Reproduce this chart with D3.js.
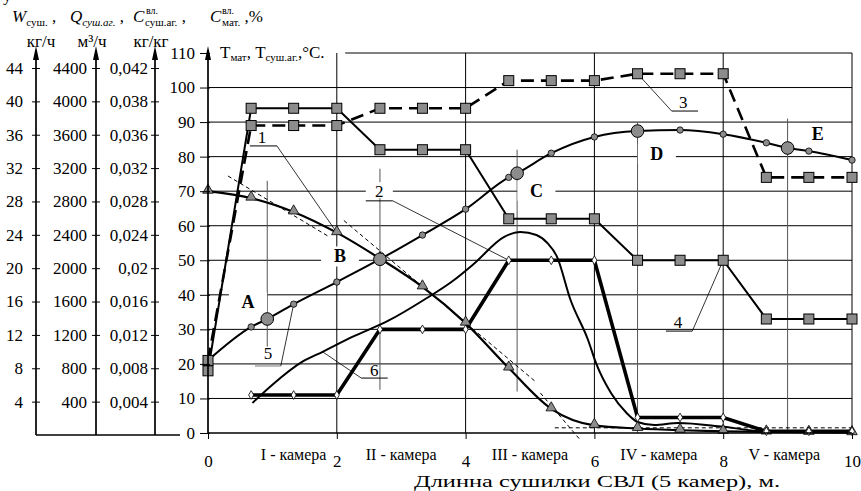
<!DOCTYPE html>
<html>
<head>
<meta charset="utf-8">
<script src="https://cdn.jsdelivr.net/npm/d3@7"></script>
<style>
body { margin: 0; background: #fff; }
svg text { font-family: "Liberation Serif", "Times New Roman", serif; fill: #000; }
</style>
</head>
<body>
<div id="chart"></div>
<script>
var svgWidth = 861;
var svgHeight = 491;

// point positions along the dryer (3 points per camera)
var xPts = [0, 0.67, 1.33, 2, 2.67, 3.33, 4, 4.67, 5.33, 6, 6.67, 7.33, 8, 8.67, 9.33, 10];

// 1 - triangles
var c1 = [70, 68, 64, 58, 50.5, 42.3, 31.8, 18.8, 7, 2.2, 1.3, 0.8, 0.5, 0.3, 0.2, 0.1];
// 2 - thick line, white diamonds
var c2x = [0.67, 1.33, 2, 2.67, 3.33, 4, 4.67, 5.33, 6, 6.67, 7.33, 8, 8.67, 9.33, 10];
var c2 = [11, 11, 11, 30, 30, 30, 50, 50, 50, 4.5, 4.5, 4.5, 0.5, 0.5, 0.5];
// 3 - dashed squares
var c3 = [21, 89, 89, 89, 94, 94, 94, 102, 102, 102, 104, 104, 104, 74, 74, 74];
// 4 - solid squares
var c4 = [18, 94, 94, 94, 82, 82, 82, 62, 62, 62, 50, 50, 50, 33, 33, 33];
// 5 - circles
var c5x = [0, 0.67, 1.33, 2, 3.33, 4, 4.67, 5.33, 6, 7.33, 8, 8.67, 9.33, 10];
var c5 = [21, 30.7, 37.3, 43.7, 57.3, 64.8, 74, 81, 85.7, 87.7, 86.5, 84, 81.6, 79];
var bigX = [0.92, 2.67, 4.8, 6.67, 9];
var bigY = [33, 50.3, 75.2, 87.4, 82.5];
var bigNames = ["A", "B", "C", "D", "E"];
// 6 - smooth curve
var c6x = [0.69, 1.0, 1.46, 1.78, 2.24, 2.8, 3.35, 3.8, 4.13, 4.6, 4.85, 5.1, 5.27, 5.42, 5.63, 5.9, 6.03, 6.26, 6.5, 6.67, 6.93, 7.3, 8, 8.67, 10];
var c6 = [8.7, 14, 20.6, 23.5, 27.8, 32.5, 38.5, 44, 49, 56.8, 58.2, 57.3, 55, 51, 38.5, 27, 20, 11.5, 5.8, 3.2, 2.3, 2.9, 1.8, 0.4, 0.2];

// tick labels
var yTicks = [0, 10, 20, 30, 40, 50, 60, 70, 80, 90, 100, 110];
var xTicks = [0, 2, 4, 6, 8, 10];
var wTicks = [4, 8, 12, 16, 20, 24, 28, 32, 36, 40, 44];
var qTicks = [400, 800, 1200, 1600, 2000, 2400, 2800, 3200, 3600, 4000, 4400];
var cTicks = ["0,004", "0,008", "0,012", "0,016", "0,02", "0,024", "0,028", "0,032", "0,036", "0,038", "0,042"];
var cameras = ["I - камера", "II - камера", "III - камера", "IV - камера", "V - камера"];
var cameraPos = [1.33, 3.0, 5.0, 7.0, 8.95];

// curve number labels: [text, text x, text y, underline x1, x2, line y, target x, target y, side]
var numLabels = [
  ["1", 0.84, 85.7, 0.65, 1.07, 83.1, 2, 58, "r"],
  ["2", 2.66, 70, 2.45, 2.87, 67.2, 4.67, 50, "r"],
  ["3", 7.38, 95.8, 7.2, 7.61, 93.2, 6.67, 104, "l"],
  ["4", 7.3, 32.1, 7.11, 7.52, 29.5, 8, 50, "r"],
  ["5", 0.93, 23.2, 0.73, 1.13, 19.4, 1.33, 37.3, "r"],
  ["6", 2.58, 18.3, 2.38, 2.79, 15.9, 1.78, 23.5, "l"]
];

var grey = "#8c8c8c";

var svg = d3.select("#chart").append("svg")
  .attr("width", svgWidth)
  .attr("height", svgHeight);

var x = d3.scaleLinear().domain([0, 10]).range([208, 852]);
var y = d3.scaleLinear().domain([0, 110]).range([433, 53]);
var yW = d3.scaleLinear().domain([0, 44]).range([435, 68]);
var yQ = d3.scaleLinear().domain([0, 4400]).range([435, 68]);

// grid
var grid = svg.append("g").attr("stroke", "#000").attr("stroke-width", 1);
grid.selectAll(".hg").data(yTicks.filter(d => d > 0)).enter().append("line")
  .attr("x1", d => d == 110 ? x(2.13) : x(0)).attr("x2", x(10))
  .attr("y1", d => y(d)).attr("y2", d => y(d));
grid.selectAll(".vg").data(xTicks.filter(d => d > 0)).enter().append("line")
  .attr("x1", d => x(d)).attr("x2", d => x(d))
  .attr("y1", y(0)).attr("y2", y(110));

// crosshair lines through the big circles
var crossTop = [73, 76.5, 82, 90, 91];
var crossBot = [25, 12.5, 12, 0, 0];
svg.append("g").selectAll("line").data(bigX).enter().append("line")
  .attr("x1", d => x(d)).attr("x2", d => x(d))
  .attr("y1", (d, i) => y(crossTop[i])).attr("y2", (d, i) => y(crossBot[i]))
  .attr("stroke", "#555").attr("stroke-width", 1);

// white boxes behind letter labels
var letterPos = [[0.62, 37.8], [2.05, 51.1], [5.1, 70.1], [6.97, 80.7], [9.47, 86.5]];
svg.append("g").selectAll("rect").data(letterPos).enter().append("rect")
  .attr("x", d => x(d[0]) - 19).attr("y", d => y(d[1]) - 10)
  .attr("width", 38).attr("height", 20).attr("fill", "#fff");
svg.append("rect").attr("x", x(2.45)).attr("y", y(70) - 9).attr("width", x(2.87) - x(2.45)).attr("height", 16).attr("fill", "#fff");

// tangent dashed lines
var tangents = [[0.31, 74.4, 1.89, 56.7], [2.11, 61.5, 5.09, 14.8], [5.16, 11.6, 5.78, -2], [5.385, 1.5, 10, 1.5]];
svg.append("g").selectAll("line").data(tangents).enter().append("line")
  .attr("x1", d => x(d[0])).attr("y1", d => y(d[1]))
  .attr("x2", d => x(d[2])).attr("y2", d => y(d[3]))
  .attr("stroke", "#000").attr("stroke-width", 1).attr("stroke-dasharray", "4,3");

// leader lines and number labels
var nl = svg.append("g");
numLabels.forEach(function(d) {
  nl.append("line").attr("x1", x(d[3])).attr("x2", x(d[4])).attr("y1", y(d[5])).attr("y2", y(d[5]))
    .attr("stroke", d[0] == "5" ? "#777" : "#000").attr("stroke-width", 1);
  var sx = d[8] == "r" ? d[4] : d[3];
  nl.append("line").attr("x1", x(sx)).attr("y1", y(d[5])).attr("x2", x(d[6])).attr("y2", y(d[7]))
    .attr("stroke", "#000").attr("stroke-width", 0.8);
  nl.append("text").attr("x", x(d[1])).attr("y", y(d[2]) + 6)
    .attr("text-anchor", "middle").attr("font-size", 17).text(d[0]);
});

var lineLin = d3.line().x(d => x(d[0])).y(d => y(d[1]));
var lineSmooth = d3.line().x(d => x(d[0])).y(d => y(d[1])).curve(d3.curveMonotoneX);

// curve 6
svg.append("path").datum(c6x.map((d, i) => [d, c6[i]]))
  .attr("d", lineSmooth).attr("fill", "none").attr("stroke", "#000").attr("stroke-width", 2);

// curve 5
var c5all = c5x.map((d, i) => [d, c5[i]]).concat(bigX.map((d, i) => [d, bigY[i]])).sort((a, b) => a[0] - b[0]);
svg.append("path").datum(c5all)
  .attr("d", lineSmooth).attr("fill", "none").attr("stroke", "#000").attr("stroke-width", 2);

// curve 1
svg.append("path").datum(xPts.map((d, i) => [d, c1[i]]))
  .attr("d", lineSmooth).attr("fill", "none").attr("stroke", "#000").attr("stroke-width", 2.2);

// curve 4
svg.append("path").datum(xPts.map((d, i) => [d, c4[i]]))
  .attr("d", lineLin).attr("fill", "none").attr("stroke", "#000").attr("stroke-width", 2);

// curve 3
svg.append("path").datum(xPts.map((d, i) => [d, c3[i]]))
  .attr("d", lineLin).attr("fill", "none").attr("stroke", "#000").attr("stroke-width", 2.6)
  .attr("stroke-dasharray", "13,7");

// curve 2
svg.append("path").datum(c2x.map((d, i) => [d, c2[i]]))
  .attr("d", lineLin).attr("fill", "none").attr("stroke", "#000").attr("stroke-width", 3.6);

// markers
svg.append("g").selectAll("path").data(xPts).enter().append("path")
  .attr("d", d3.symbol(d3.symbolTriangle, 48))
  .attr("transform", (d, i) => `translate(${x(d)},${y(c1[i]) - 1})`)
  .attr("fill", grey).attr("stroke", "#000").attr("stroke-width", 0.8);

[c4, c3].forEach(function(c) {
  svg.append("g").selectAll("rect").data(xPts).enter().append("rect")
    .attr("x", d => x(d) - 5).attr("y", (d, i) => y(c[i]) - 5)
    .attr("width", 10).attr("height", 10)
    .attr("fill", grey).attr("stroke", "#000").attr("stroke-width", 1);
});

svg.append("g").selectAll("circle").data(c5x.slice(1)).enter().append("circle")
  .attr("cx", d => x(d)).attr("cy", (d, i) => y(c5[i + 1]))
  .attr("r", 3.2).attr("fill", grey).attr("stroke", "#000").attr("stroke-width", 0.8);
svg.append("g").selectAll("circle").data(bigX).enter().append("circle")
  .attr("cx", d => x(d)).attr("cy", (d, i) => y(bigY[i]))
  .attr("r", 6.3).attr("fill", grey).attr("stroke", "#000").attr("stroke-width", 1);

svg.append("g").selectAll("path").data(c2x).enter().append("path")
  .attr("d", d3.symbol(d3.symbolDiamond, 22))
  .attr("transform", (d, i) => `translate(${x(d)},${y(c2[i])})`)
  .attr("fill", "#fff").attr("stroke", "#000").attr("stroke-width", 0.8);

// letters
svg.append("g").selectAll("text").data(letterPos).enter().append("text")
  .attr("x", d => x(d[0])).attr("y", d => y(d[1]) + 6)
  .attr("text-anchor", "middle").attr("font-size", 18).attr("font-weight", "bold")
  .text((d, i) => bigNames[i]);

// main y axis
var yAxis = d3.axisLeft(y).tickValues(yTicks).tickSize(7).tickPadding(6);
var gy = svg.append("g").attr("transform", `translate(${x(0)},0)`).call(yAxis);
gy.select(".domain").remove();
gy.selectAll("text").attr("font-size", 17).attr("font-family", null);
gy.selectAll(".tick line").attr("x2", -8).attr("x1", 2);

// x axis
var xAxis = d3.axisBottom(x).tickValues(xTicks).tickSize(6).tickPadding(16);
var gx = svg.append("g").attr("transform", `translate(0,${y(0)})`).call(xAxis);
gx.select(".domain").remove();
gx.selectAll("text").attr("font-size", 17).attr("font-family", null);

svg.append("line").attr("x1", x(0)).attr("x2", x(10)).attr("y1", y(0)).attr("y2", y(0))
  .attr("stroke", "#000").attr("stroke-width", 1.3);
svg.append("line").attr("x1", 36).attr("x2", 180).attr("y1", yW(0)).attr("y2", yW(0))
  .attr("stroke", "#000").attr("stroke-width", 1.5);

// left axes
function leftAxis(px, scale, vals, fmt, pad) {
  var ax = d3.axisLeft(scale).tickValues(vals).tickSize(4).tickPadding(pad).tickFormat(fmt);
  var g = svg.append("g").attr("transform", `translate(${px},0)`).call(ax);
  g.select(".domain").remove();
  g.selectAll("text").attr("font-size", 17).attr("font-family", null);
  g.selectAll(".tick line").attr("x1", 4).attr("x2", -4);
  g.append("line").attr("x1", 0).attr("x2", 0).attr("y1", scale.range()[0]).attr("y2", 52)
    .attr("stroke", "#000").attr("stroke-width", 1.7);
  g.append("path").attr("d", "M0,46 L-3,60 L3,60 Z").attr("fill", "#000");
}
leftAxis(36, yW, wTicks, d3.format("d"), 9);
leftAxis(96, yQ, qTicks, d3.format("d"), 5);
leftAxis(155, yW, wTicks, (d, i) => cTicks[i], 3);

svg.append("line").attr("x1", x(0)).attr("x2", x(0)).attr("y1", y(0)).attr("y2", 52)
  .attr("stroke", "#000").attr("stroke-width", 1.7);
svg.append("path").attr("d", `M${x(0)},46 L${x(0) - 3},60 L${x(0) + 3},60 Z`).attr("fill", "#000");

// camera labels
svg.append("g").selectAll("text").data(cameras).enter().append("text")
  .attr("x", (d, i) => x(cameraPos[i])).attr("y", 460)
  .attr("text-anchor", "middle").attr("font-size", 16).text(d => d);

svg.append("text").attr("x", 414).attr("y", 487)
  .attr("font-size", 16).attr("textLength", 366).attr("lengthAdjust", "spacingAndGlyphs")
  .text("Длинна сушилки СВЛ (5 камер), м.");

// axis titles
var t = svg.append("text").attr("x", 220).attr("y", 58).attr("font-size", 17);
t.append("tspan").text("Т");
t.append("tspan").attr("font-size", 11).attr("dy", 3).text("мат");
t.append("tspan").attr("dy", -3).text(", Т");
t.append("tspan").attr("font-size", 11).attr("dy", 3).text("суш.аг.");
t.append("tspan").attr("dy", -3).text(",°C.");

svg.append("text").attr("x", 3).attr("y", 1).attr("font-size", 17).text("у");

// header over the left axes
var hw = svg.append("text").attr("x", 12).attr("y", 22).attr("font-size", 17);
hw.append("tspan").attr("font-style", "italic").text("W");
hw.append("tspan").attr("font-size", 11).attr("dy", 4).text("суш.");
hw.append("tspan").attr("dy", -4).text(" ,");
var hq = svg.append("text").attr("x", 70).attr("y", 22).attr("font-size", 17);
hq.append("tspan").attr("font-style", "italic").text("Q");
hq.append("tspan").attr("font-size", 11).attr("font-style", "italic").attr("dy", 4).text("суш.аг.");
hq.append("tspan").attr("dy", -4).text(" ,");
var hc = svg.append("text").attr("x", 133).attr("y", 22).attr("font-size", 17);
hc.append("tspan").attr("font-style", "italic").text("C");
hc.append("tspan").attr("font-size", 10).attr("x", 146).attr("y", 14).text("вл.");
hc.append("tspan").attr("font-size", 11).attr("x", 145).attr("y", 26).text("суш.аг.");
hc.append("tspan").attr("y", 22).text(" ,");
var hm = svg.append("text").attr("x", 210).attr("y", 22).attr("font-size", 17);
hm.append("tspan").attr("font-style", "italic").text("C");
hm.append("tspan").attr("font-size", 10).attr("x", 222).attr("y", 14).text("вл.");
hm.append("tspan").attr("font-size", 11).attr("x", 222).attr("y", 26).text("мат.");
hm.append("tspan").attr("y", 22).text(" ,%");

var units = [["кг/ч", 41], ["м³/ч", 92], ["кг/кг", 151]];
svg.append("g").selectAll("text").data(units).enter().append("text")
  .attr("x", d => d[1]).attr("y", 47).attr("text-anchor", "middle")
  .attr("font-size", 17).text(d => d[0]);
</script>
</body>
</html>
